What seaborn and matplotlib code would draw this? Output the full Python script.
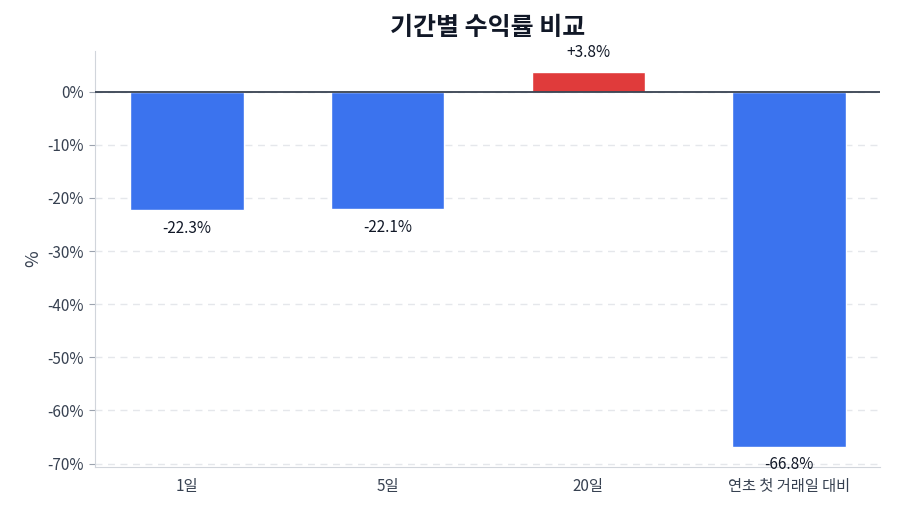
import matplotlib
matplotlib.use("Agg")
import matplotlib.pyplot as plt
import seaborn as sns
import pandas as pd

# data
periods = ["1일", "5일", "20일", "연초 첫 거래일 대비"]
returns = [-22.3, -22.1, 3.8, -66.8]
bar_colors = ["#3B73EE" if v < 0 else "#E03B3B" for v in returns]
yticks = [0, -10, -20, -30, -40, -50, -60, -70]

sns.set_style("white")
plt.rcParams["font.family"] = ["Noto Sans CJK KR", "DejaVu Sans"]

df = pd.DataFrame({"period": periods, "ret": returns})

fig, ax = plt.subplots(figsize=(9, 5.14), dpi=100)
sns.barplot(data=df, x="period", y="ret", hue="period", palette=bar_colors,
            width=0.565, legend=False, ax=ax, saturation=1)

ax.set_xlim(-0.46, 3.455)
ax.set_ylim(-70.6, 7.6)
ax.set_yticks(yticks)
ax.set_yticklabels([f"{t}%" for t in yticks])
ax.yaxis.grid(True, linestyle=(0, (5, 4)), color="#e5e7eb", linewidth=1)
ax.set_axisbelow(True)
ax.axhline(0, color="#374151", linewidth=1.3, zorder=3)

# value labels: above for gains, below for losses
for i, v in enumerate(returns):
    txt = f"+{v:.1f}%" if v > 0 else f"{v:.1f}%"
    if v >= 0:
        ax.text(i, v + 2.0, txt, ha="center", va="bottom", fontsize=11, color="#111827")
    else:
        ax.text(i, v - 1.8, txt, ha="center", va="top", fontsize=11, color="#111827")

ax.set_title("기간별 수익률 비교", fontsize=18, fontweight="bold", color="#111827", pad=12)
ax.set_xlabel("")
ax.set_ylabel("%", fontsize=13, color="#374151")
ax.tick_params(axis="both", colors="#374151", labelsize=11, length=4, left=True, bottom=True)
ax.tick_params(axis="y", color="#9ca3af")
ax.tick_params(axis="x", length=0, pad=8)

for s in ["top", "right"]:
    ax.spines[s].set_visible(False)
ax.spines["left"].set_color("#d1d5db")
ax.spines["bottom"].set_color("#d1d5db")

fig.subplots_adjust(left=0.105, right=0.978, top=0.9, bottom=0.092)
fig.savefig("out.png", dpi=100)
